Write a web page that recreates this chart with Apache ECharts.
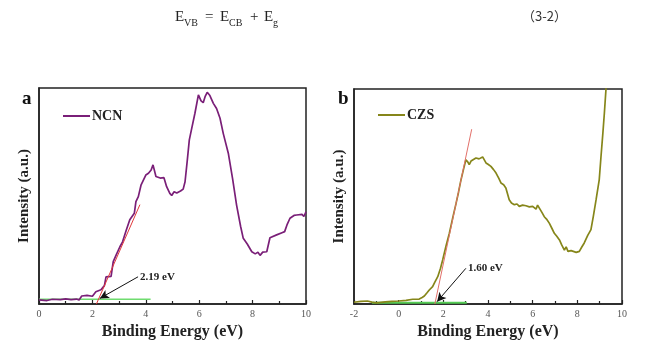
<!DOCTYPE html>
<html><head><meta charset="utf-8">
<script src="https://cdn.jsdelivr.net/npm/echarts@6/dist/echarts.min.js"></script>
<style>html,body{margin:0;padding:0;background:#fff}#c{width:653px;height:357px}</style>
</head><body><div id="c"></div>
<script>
// Panel a: NCN
const ncnX = [0,0.3,0.5,0.8,1.0,1.2,1.4,1.5,1.6,1.8,2.0,2.07,2.13,2.32,2.45,2.51,2.7,2.78,2.9,3.03,3.13,3.27,3.4,3.45,3.57,3.63,3.72,3.82,4.0,4.1,4.2,4.27,4.38,4.54,4.68,4.78,4.9,4.97,5.06,5.16,5.3,5.4,5.47,5.55,5.63,5.72,5.84,5.97,6.07,6.15,6.22,6.3,6.4,6.53,6.65,6.78,6.9,7.09,7.25,7.4,7.55,7.65,7.8,7.97,8.1,8.2,8.28,8.38,8.45,8.53,8.65,8.9,9.1,9.2,9.3,9.4,9.55,9.65,9.85,9.92,10];
const ncnY = [1.9,1.6,2.2,2.0,2.4,2.0,2.3,1.9,3.7,4.0,3.6,3.8,5.7,6.6,8.5,12.6,12.8,19.6,23,26.5,28.8,34.3,39.0,39.7,42,47.4,49.7,55,59.7,60.5,62,64.4,59,58.3,58.5,54.3,51.2,50.2,52,51.4,52.3,53.2,56.6,66,76,81.3,88.3,96.8,94,93.2,96,98,96.5,92.9,90.5,86,79,69.8,58,45.8,36,30.4,27.8,24.2,23.2,24,22.5,24,23.2,24.2,30.7,32,33,33.5,37,39.7,41,41.2,41.5,40.5,42.7];
const ncnTangentX = [2.15, 3.78];
const ncnTangentY = [0, 46];
const ncnBaseX = [0, 4.18];
const ncnBaseY = [2.2, 2.2];
const ncnArrow = [[3.71, 12.6], [2.28, 2.6]];
const ncnGapLabel = '2.19 eV';

// Panel b: CZS
const czsX = [-2,-1.7,-1.4,-1.2,-1.0,-0.6,-0.3,0.0,0.33,0.63,0.92,1.05,1.15,1.27,1.37,1.52,1.62,1.75,1.87,1.97,2.12,2.27,2.42,2.57,2.68,2.79,2.9,3.01,3.1,3.16,3.24,3.31,3.46,3.6,3.76,3.91,4.0,4.13,4.25,4.36,4.48,4.58,4.7,4.8,4.95,5.05,5.18,5.3,5.4,5.55,5.7,5.85,6.0,6.15,6.22,6.3,6.42,6.52,6.62,6.75,6.87,6.97,7.08,7.2,7.3,7.35,7.42,7.5,7.58,7.64,7.72,7.79,7.95,8.09,8.2,8.31,8.46,8.61,8.72,8.84,8.98,9.06,9.14,9.21,9.28,9.32];
const czsY = [0.8,1.2,1.4,0.9,0.5,1.0,1.2,1.4,1.7,2.2,2.3,3.0,3.7,5.2,6.5,8.1,10.2,12.7,16.5,20.5,27,32.9,40,46.8,52,57.7,62.5,67.1,66,64.8,66.5,66.3,67.9,67.5,68.4,65.6,65,64,62.5,60.9,58.5,56.3,55.5,54,48.5,47,46.2,46.5,45.4,46,45.7,45.2,45.4,44.1,46,45.4,42.5,40.6,39.5,37.5,35,32.9,31.5,29.8,27.5,27,25.1,26.6,24.5,23.8,24.8,24,24,24.5,26.5,28.4,31.8,34.6,41,48.5,57.7,68.6,79,88.7,99.5,106];
const czsTangentX = [1.62, 3.27];
const czsTangentY = [0, 81.3];
const czsBaseX = [-1.2, 3.05];
const czsBaseY = [0.6, 0.6];
const czsArrow = [[3.01, 16.6], [1.72, 1.1]];
const czsGapLabel = '1.60 eV';

const xTicksA = {min: 0, max: 10, interval: 2};
const xTicksB = {min: -2, max: 10, interval: 2};

const zip = (xs, ys) => xs.map((x, i) => [x, ys[i]]);
const serif = 'Liberation Serif';

function xAxis(idx, t) {
  return {
    type: 'value', gridIndex: idx, min: t.min, max: t.max, interval: t.interval,
    name: 'Binding Energy (eV)', nameLocation: 'middle', nameGap: 14,
    nameTextStyle: {fontFamily: serif, fontWeight: 'bold', fontSize: 16, color: '#222'},
    axisLine: {show: true, onZero: false, lineStyle: {color: '#222', width: 1.5}},
    axisTick: {show: true, inside: true, length: 4, lineStyle: {color: '#222', width: 1.2}},
    minorTick: {show: true, splitNumber: 2, length: 3, lineStyle: {color: '#222', width: 1.2}},
    axisLabel: {fontFamily: serif, fontSize: 10, color: '#555', margin: 5},
    splitLine: {show: false}, minorSplitLine: {show: false}
  };
}
function yAxis(idx) {
  return {
    type: 'value', gridIndex: idx, min: 0, max: 100,
    name: 'Intensity (a.u.)', nameLocation: 'middle', nameGap: 7,
    nameTextStyle: {fontFamily: serif, fontWeight: 'bold', fontSize: 15, color: '#222'},
    axisLine: {show: true, onZero: false, lineStyle: {color: '#222', width: 1.5}},
    axisTick: {show: false}, axisLabel: {show: false}, splitLine: {show: false}
  };
}
function gapMarks(arrow, label) {
  return {
    markLine: {
      silent: true, symbol: ['none', 'arrow'], symbolSize: [7, 9],
      lineStyle: {color: '#111', width: 1, type: 'solid'},
      label: {show: false},
      data: [[{coord: arrow[0]}, {coord: arrow[1]}]]
    },
    markPoint: {
      silent: true, symbol: 'circle', symbolSize: 0,
      label: {show: true, formatter: label, position: 'right', distance: 2,
        fontFamily: serif, fontWeight: 'bold', fontSize: 11, color: '#222'},
      data: [{coord: arrow[0]}]
    }
  };
}
function t(x, y, text, size) {
  return {type: 'text', x: x, y: y, style: {text: text, font: size + 'px "Liberation Serif"', fill: '#222', verticalAlign: 'bottom'}};
}

const chart = echarts.init(document.getElementById('c'), null, {renderer: 'canvas'});
chart.setOption({
  animation: false,
  backgroundColor: '#fff',
  grid: [
    {left: 39, top: 88, width: 267, height: 216, show: true, borderColor: '#222', borderWidth: 1.5},
    {left: 354, top: 89, width: 268, height: 215, show: true, borderColor: '#222', borderWidth: 1.5}
  ],
  xAxis: [xAxis(0, xTicksA), xAxis(1, xTicksB)],
  yAxis: [yAxis(0), yAxis(1)],
  legend: [
    {left: 58, top: 104, data: ['NCN'], icon: 'rect', itemWidth: 27, itemHeight: 2, itemGap: 0,
     textStyle: {fontFamily: serif, fontWeight: 'bold', fontSize: 14, color: '#222', padding: [0, 0, 0, -3]}},
    {left: 373, top: 103, data: ['CZS'], icon: 'rect', itemWidth: 27, itemHeight: 2, itemGap: 0,
     textStyle: {fontFamily: serif, fontWeight: 'bold', fontSize: 14, color: '#222', padding: [0, 0, 0, -3]}}
  ],
  graphic: [
    {type: 'text', left: 22, top: 90, style: {text: 'a', font: 'bold 19px "Liberation Serif"', fill: '#111'}},
    {type: 'text', left: 338, top: 90, style: {text: 'b', font: 'bold 19px "Liberation Serif"', fill: '#111'}},
    t(175, 25, 'E', 15), t(184, 28, 'VB', 10),
    t(205, 25, '=', 15),
    t(220, 25, 'E', 15), t(229, 28, 'CB', 10),
    t(250, 25, '+', 15),
    t(264, 25, 'E', 15), t(273, 28, 'g', 10),
    {type: 'text', left: 522, top: 10, style: {text: '（3-2）', font: '13px "Noto Sans CJK SC"', fill: '#333'}}
  ],
  series: [
    Object.assign({name: 'NCN', type: 'line', xAxisIndex: 0, yAxisIndex: 0, data: zip(ncnX, ncnY),
      showSymbol: false, symbol: 'none', clip: true, lineStyle: {color: '#7a1f78', width: 1.7}, itemStyle: {color: '#7a1f78'}, z: 3},
      gapMarks(ncnArrow, ncnGapLabel)),
    {name: 'NCN tangent', type: 'line', xAxisIndex: 0, yAxisIndex: 0, data: zip(ncnTangentX, ncnTangentY),
      symbol: 'none', lineStyle: {color: '#e0383a', width: 1}, z: 4},
    {name: 'NCN baseline', type: 'line', xAxisIndex: 0, yAxisIndex: 0, data: zip(ncnBaseX, ncnBaseY),
      symbol: 'none', lineStyle: {color: '#6fdc6f', width: 1.5}, z: 2},
    Object.assign({name: 'CZS', type: 'line', xAxisIndex: 1, yAxisIndex: 1, data: zip(czsX, czsY),
      showSymbol: false, symbol: 'none', clip: true, lineStyle: {color: '#86861a', width: 1.7}, itemStyle: {color: '#86861a'}, z: 3},
      gapMarks(czsArrow, czsGapLabel)),
    {name: 'CZS tangent', type: 'line', xAxisIndex: 1, yAxisIndex: 1, data: zip(czsTangentX, czsTangentY),
      symbol: 'none', lineStyle: {color: '#e2706a', width: 1}, z: 4},
    {name: 'CZS baseline', type: 'line', xAxisIndex: 1, yAxisIndex: 1, data: zip(czsBaseX, czsBaseY),
      symbol: 'none', lineStyle: {color: '#55cc55', width: 2}, z: 2}
  ]
});
</script></body></html>
